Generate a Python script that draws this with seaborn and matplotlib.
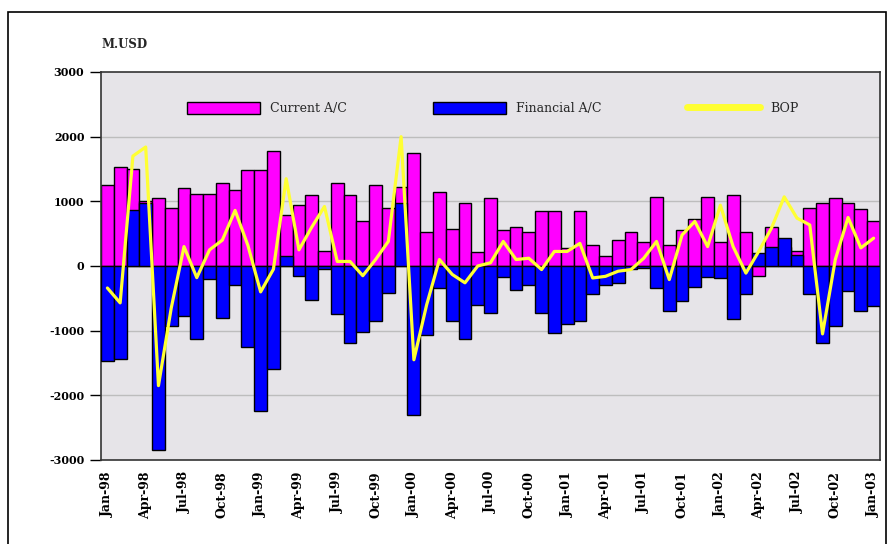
import numpy as np
import pandas as pd
import matplotlib
matplotlib.use("Agg")
import matplotlib.pyplot as plt
import seaborn as sns
from matplotlib.patches import Patch, Rectangle
from matplotlib.lines import Line2D

# ---------------- data (M.USD, monthly Jan-98 .. Jan-03) ----------------
months = pd.date_range("1998-01-01", "2003-01-01", freq="MS").strftime("%b-%y").tolist()

current_ac = [1260, 1530, 1500, 1000, 1050, 890, 1200, 1120, 1120, 1290,
              1175, 1490, 1490, 1780, 790, 940, 1100, 235, 1290, 1100,
              690, 1250, 890, 1225, 1740, 530, 1140, 575, 970, 215,
              1050, 560, 610, 530, 850, 850, 275, 850, 330, 150,
              405, 530, 370, 1060, 330, 560, 720, 1060, 370, 1100,
              520, -160, 610, 300, 235, 890, 970, 1045, 970, 880,
              690]

financial_ac = [-1470, -1440, 870, 970, -2850, -930, -775, -1130, -200, -810,
                -290, -1260, -2240, -1590, 160, -150, -530, -40, -740, -1185,
                -1020, -850, -415, 970, -2310, -1060, -340, -850, -1130, -600,
                -720, -170, -365, -300, -730, -1030, -890, -850, -440, -300,
                -260, -50, -30, -340, -700, -540, -320, -170, -185, -820,
                -440, 200, 300, 440, 175, -440, -1185, -930, -390, -700,
                -620]

bop = [-340, -570, 1700, 1840, -1850, -650, 300, -180, 250, 400,
       860, 320, -400, -50, 1350, 250, 600, 920, 70, 70,
       -150, 100, 380, 2000, -1450, -600, 100, -130, -260, 0,
       50, 380, 100, 120, -55, 225, 225, 350, -185, -160,
       -80, -55, 120, 380, -210, 480, 690, 300, 940, 300,
       -110, 225, 585, 1070, 740, 635, -1050, 100, 750, 280,
       430]

yticks = [-3000, -2000, -1000, 0, 1000, 2000, 3000]
tick_every = 3

df = pd.DataFrame({"month": months, "current": current_ac,
                   "financial": financial_ac, "bop": bop})
df["pos"] = np.arange(len(df))

# ---------------- figure ----------------
W, H = 889, 544
fig = plt.figure(figsize=(W / 100, H / 100), dpi=100)
fig.patch.set_facecolor("white")
sns.set_style("white")
plt.rcParams["font.family"] = ["DejaVu Serif"]

def fx(px):
    return px / W

def fy(py):
    return 1 - py / H

# outer chart frame
fig.patches.append(Rectangle((fx(8), fy(560)), fx(886) - fx(8), fy(12) - fy(560),
                             transform=fig.transFigure, fill=False,
                             edgecolor="black", linewidth=1.2, zorder=0))

ax = fig.add_axes([fx(101), fy(460), fx(880) - fx(101), fy(72) - fy(460)])
ax.set_facecolor("#E6E4E8")

sns.barplot(data=df, x="month", y="current", order=months, color="#FF00FF",
            saturation=1, width=1.0, edgecolor="black", linewidth=1.0,
            ax=ax, zorder=2)
sns.barplot(data=df, x="month", y="financial", order=months, color="#0000FF",
            saturation=1, width=1.0, edgecolor="black", linewidth=1.0,
            ax=ax, zorder=3)
sns.lineplot(data=df, x="pos", y="bop", color="#FFFF33", linewidth=2.3,
             ax=ax, zorder=4, sort=False)

ax.set_xlim(-0.5, len(df) - 0.5)
ax.set_ylim(-3000, 3000)
ax.set_yticks(yticks)
ax.set_yticklabels([str(v) for v in yticks], fontsize=8, fontweight="bold")
ax.set_xticks(range(0, len(df), tick_every))
ax.set_xticklabels([months[i] for i in range(0, len(df), tick_every)],
                   rotation=90, fontsize=9, fontweight="bold")
ax.set_xlabel("")
ax.set_ylabel("")

for v in [-2000, -1000, 1000, 2000]:
    ax.axhline(v, color="#BDBDBD", linewidth=1.0, zorder=1)

for s in ax.spines.values():
    s.set_visible(True)
    s.set_color("#333333")
    s.set_linewidth(1.2)

ax.tick_params(axis="y", direction="out", length=8, width=1, pad=4, colors="black", left=True)
ax.tick_params(axis="x", length=0, pad=8, colors="black")

fig.text(fx(101), fy(44), "M.USD", fontsize=8.5, fontweight="bold", va="center", ha="left")

handles = [Patch(facecolor="#FF00FF", edgecolor="black", linewidth=1),
           Patch(facecolor="#0000FF", edgecolor="black", linewidth=1),
           Line2D([0], [0], color="#FFFF33", linewidth=5)]
labels = ["Current A/C", "Financial A/C", "BOP"]
leg = ax.legend(handles, labels, loc="center", bbox_to_anchor=(0.503, 0.905),
                ncol=3, frameon=False, handlelength=5.8,
                handleheight=1.1, columnspacing=6.9, handletextpad=0.8,
                prop={"family": "DejaVu Serif", "size": 9})

fig.savefig("out.png", dpi=100)
